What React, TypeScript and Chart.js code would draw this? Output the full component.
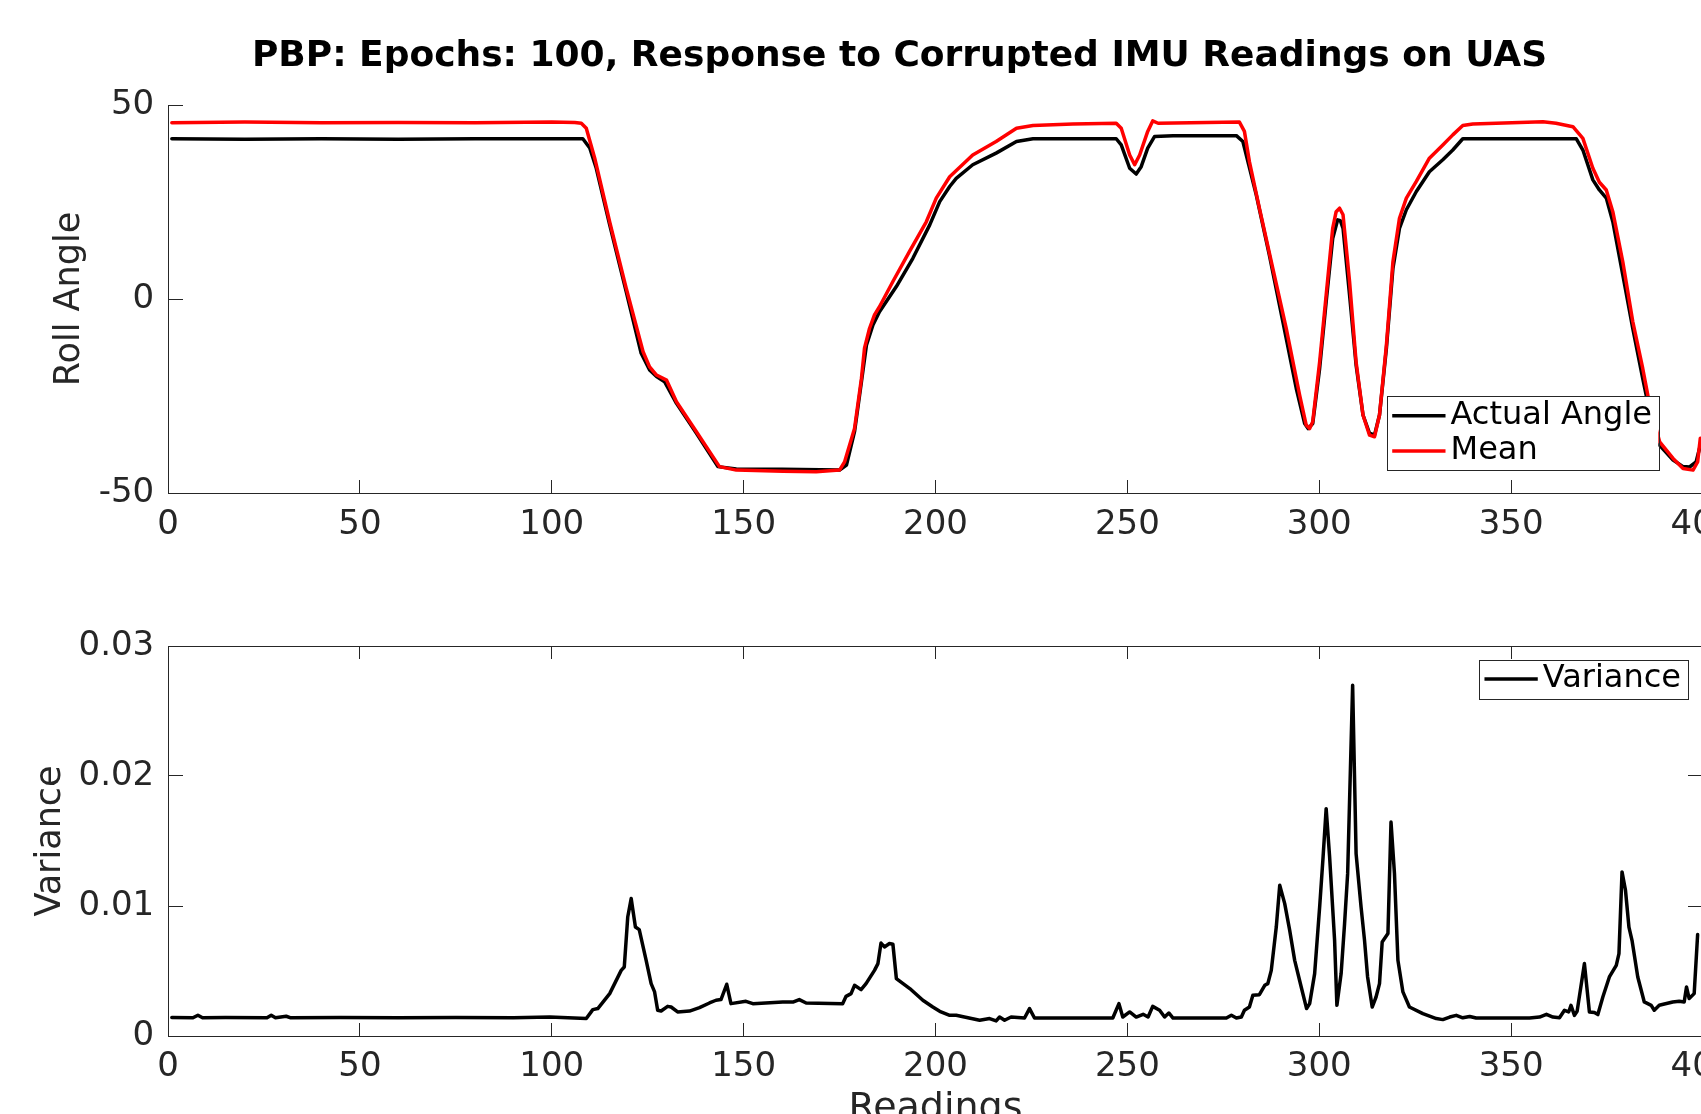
import React, { useEffect, useRef } from 'react';
import { Chart, registerables } from 'chart.js';

Chart.register(...registerables);

// ---------------- text ----------------
const TITLE_TEXT = 'PBP: Epochs: 100, Response to Corrupted IMU Readings on UAS';
const TOP_Y_LABEL = 'Roll Angle';
const BOTTOM_Y_LABEL = 'Variance';
const X_LABEL = 'Readings';
const ACTUAL_NAME = 'Actual Angle';
const MEAN_NAME = 'Mean';
const VARIANCE_NAME = 'Variance';

// ---------------- axes ----------------
const X_MIN = 0;
const X_MAX = 400;
const X_STEP = 50;
const ANGLE_MIN = -50;
const ANGLE_MAX = 50;
const ANGLE_STEP = 50;
const VAR_MIN = 0;
const VAR_MAX = 0.03;
const VAR_STEP = 0.01;

// ---------------- data ----------------
const actualReadings = [
  1, 20, 40, 60, 80, 100, 108.1, 109.9, 111.6, 115.1, 119.4, 123.3, 125.5, 127.3, 129.4,
  132.5, 137.7, 143.3, 148.1, 160, 175.0, 176.8, 178.9, 180.7, 182.0, 183.7, 185.4, 189.8,
  194.1, 198.5, 201.1, 203.7, 205.4, 209.7, 215.8, 221.1, 225.4, 247.1, 248.4, 250.6, 252.3,
  253.6, 255.3, 257.1, 261.9, 278.4, 280.1, 283.6, 287.0, 290.5, 294.0, 296.2, 297.1, 298.3,
  300.1, 301.8, 303.5, 304.8, 305.5, 306.2, 307.9, 309.6, 311.4, 313.1, 314.4, 315.7, 317.5,
  319.2, 320.9, 322.7, 325.3, 328.7, 332.2, 334.8, 337.4, 367.0, 368.7, 371.3, 373.0, 374.8,
  376.5, 379.1, 381.7, 384.3, 386.1, 388.7, 392.2, 394.8, 396.5, 398.2, 399.3,
];
const actualAngle = [
  41.3, 41.2, 41.3, 41.2, 41.3, 41.3, 41.3, 38.9, 33.7, 19.1, 1.9, -14.0, -18.3, -20.0, -21.3,
  -26.9, -34.6, -43.2, -43.8, -43.9, -44.1, -42.8, -34.2, -21.3, -11.9, -6.7, -3.3, 3.2,
  10.5, 19.1, 25.1, 29.0, 31.1, 34.6, 37.6, 40.6, 41.3, 41.3, 39.7, 33.7, 32.2,
  34.1, 38.9, 41.9, 42.1, 42.1, 40.6, 26.8, 11.3, -5.8, -23.0, -32.1, -33.4, -32.1,
  -17.9, -0.7, 15.6, 20.4, 20.2, 18.2, 1.0, -17.0, -29.9, -34.6, -35.1, -29.9, -12.7,
  7.9, 18.2, 23.0, 27.7, 32.8, 35.9, 38.4, 41.3, 41.3, 38.4, 30.7, 28.1, 26.0,
  19.9, 6.2, -7.6, -20.5, -29.1, -37.7, -41.5, -43.2, -43.3, -42.0, -37.7,
];

const meanReadings = [
  1, 20, 40, 60, 80, 100, 106, 107.7, 109.0, 111.2, 115.1, 119.4, 123.8, 125.5, 127.3,
  129.9, 132.5, 137.7, 143.7, 148.1, 160.2, 168.9, 175.0, 176.3, 178.9, 180.7, 181.5, 182.8,
  184.1, 185.4, 188.9, 193.2, 197.6, 200.2, 203.7, 209.7, 215.8, 221.1, 225.4, 235.8, 247.1,
  248.4, 250.6, 251.9, 253.2, 255.3, 256.6, 258.0, 279.2, 280.5, 281.8, 284.4, 287.9, 291.4,
  294.9, 296.6, 297.5, 298.3, 300.1, 301.8, 303.5, 304.4, 305.3, 306.2, 307.9, 309.6, 311.4,
  313.1, 314.4, 315.7, 317.5, 319.2, 320.9, 322.7, 325.3, 328.7, 332.2, 334.8, 337.4, 340.0,
  358.3, 361.7, 366.1, 368.7, 371.3, 373.0, 374.8, 376.5, 379.1, 381.7, 384.3, 386.1, 388.7,
  392.2, 394.8, 397.4, 398.6, 399.3,
];
const meanAngle = [
  45.4, 45.6, 45.4, 45.5, 45.4, 45.6, 45.5, 45.3, 44.0, 36.3, 19.9, 2.8, -13.6, -17.5, -19.6,
  -20.9, -26.5, -34.2, -43.2, -44.1, -44.4, -44.5, -44.1, -42.0, -33.4, -20.5, -12.7, -7.6,
  -4.1, -2.0, 4.5, 12.2, 19.9, 26.0, 31.5, 37.1, 40.6, 44.0, 44.7, 45.1, 45.3,
  44.0, 37.1, 34.6, 37.1, 43.2, 45.9, 45.3, 45.6, 43.2, 35.4, 23.4, 7.9, -7.6,
  -24.8, -32.5, -33.4, -31.6, -16.2, 1.0, 18.2, 22.5, 23.4, 21.7, 4.5, -16.2, -29.9,
  -35.1, -35.5, -29.9, -11.9, 9.6, 20.8, 26.0, 30.3, 36.3, 39.7, 42.3, 44.7, 45.1,
  45.7, 45.3, 44.4, 41.4, 33.7, 30.1, 28.1, 22.5, 9.6, -5.8, -17.9, -27.3, -36.8,
  -41.1, -43.7, -44.1, -42.0, -35.9,
];

const varianceReadings = [
  1, 6.5, 7.8, 9, 15, 25.8, 26.9, 28, 30.8, 32, 45, 60, 75, 90, 99.5, 109.0, 110.7, 112.0,
  115.1, 118.1, 118.9, 119.8, 120.7, 121.8, 122.8, 124.6, 125.9, 126.8, 127.6, 128.5, 130.2,
  131.1, 132.8, 135.9, 138.5, 141.1, 142.8, 144.1, 145.6, 146.7, 150.6, 152.4, 160.2, 163.0,
  164.5, 166.3, 175.8, 176.7, 178.0, 178.9, 180.6, 181.9, 184.1, 185.0, 185.8, 186.7, 188.0,
  188.9, 189.8, 193.3, 196.7, 199.3, 201.1, 203.7, 205.4, 211.5, 214.1, 215.8, 216.7, 218.0,
  219.7, 223.2, 224.5, 225.8, 246.2, 247.8, 248.8, 250.6, 252.3, 254.1, 255.4, 256.6, 258.4,
  259.7, 260.8, 261.9, 275.8, 277.1, 278.4, 279.7, 280.5, 281.8, 282.7, 284.4, 285.8, 286.6,
  287.5, 288.8, 289.7, 291.0, 292.3, 293.6, 295.3, 296.7, 297.5, 298.8, 300.1, 301.0, 301.8,
  302.7, 304.0, 304.6, 305.7, 306.6, 307.4, 308.7, 309.6, 310.9, 311.8, 312.6, 313.8, 314.8,
  315.7, 316.4, 317.9, 318.7, 319.6, 320.5, 321.8, 323.5, 327.0, 330.5, 332.2, 334.0, 335.7,
  337.4, 339.2, 340.9, 354.8, 357.4, 359.2, 360.9, 362.6, 363.9, 365.0, 365.6, 366.5, 367.2,
  369.1, 370.4, 371.7, 372.6, 373.9, 375.6, 377.4, 378.1, 378.9, 379.8, 380.7, 381.5, 383.0,
  384.7, 386.5, 387.3, 388.6, 392.1, 393.8, 395.1, 395.7, 396.4, 397.7, 398.6,
];
const varianceValues = [
  0.00142, 0.0014, 0.0016, 0.00141, 0.00142, 0.0014, 0.00159, 0.0014, 0.00152, 0.0014,
  0.00142, 0.0014, 0.00143, 0.00141, 0.00146, 0.00134, 0.00203, 0.00211,
  0.00326, 0.00505, 0.00531, 0.00915, 0.01057, 0.00838, 0.00818, 0.00582, 0.00403, 0.00339,
  0.00198, 0.00192, 0.00228, 0.00223, 0.00185, 0.00192, 0.00218, 0.00254, 0.00275, 0.0028,
  0.00398, 0.00249, 0.00267, 0.00249, 0.00262, 0.00262, 0.0028, 0.00254, 0.00249, 0.00305,
  0.00326, 0.0039, 0.00357, 0.00403, 0.00505, 0.00557, 0.00715, 0.00685, 0.00711, 0.00706,
  0.00442, 0.00365, 0.00275, 0.00223, 0.0019, 0.00159, 0.00159, 0.00121, 0.00134, 0.00116,
  0.00146, 0.00121, 0.00146, 0.00138, 0.00211, 0.00138, 0.00138, 0.00249, 0.00146, 0.00185,
  0.00146, 0.00167, 0.00146, 0.00228, 0.00198, 0.00146, 0.00177, 0.00138, 0.00138, 0.00159,
  0.00138, 0.00146, 0.00198, 0.00223, 0.00313, 0.00318, 0.0039, 0.00403, 0.00505, 0.00838,
  0.01159, 0.01018, 0.00813, 0.00582, 0.00377, 0.00211, 0.00249, 0.0048, 0.00992, 0.01377,
  0.01749, 0.01377, 0.00736, 0.00236, 0.0048, 0.00865, 0.01249, 0.02698, 0.01403, 0.00992,
  0.00736, 0.00454, 0.00223, 0.003, 0.00403, 0.00723, 0.00788, 0.01646, 0.01249, 0.00582,
  0.00339, 0.00223, 0.00172, 0.00134, 0.00126, 0.00146, 0.00159, 0.0014, 0.0015, 0.00138,
  0.00138, 0.00146, 0.00167, 0.00146, 0.0014, 0.00198, 0.00185, 0.00236, 0.00159, 0.0019,
  0.00557, 0.00185, 0.0018, 0.00165, 0.003, 0.00454, 0.00544, 0.00634, 0.01262, 0.01121,
  0.00838, 0.00736, 0.00454, 0.00262, 0.00236, 0.00198, 0.00236, 0.00262, 0.00267, 0.00262,
  0.00377, 0.00288, 0.00326, 0.0078,
];

// ---------------- layout / style ----------------
const FONT = "'DejaVu Sans', 'Liberation Sans', Arial, sans-serif";
const AXIS_COLOR = '#262626';
const FIG_W = 1701;
const FIG_H = 1114;
const CANVAS_W = 1800;
const TOP_H = 560;
const BOT_H = 640;
const BOT_OFFSET = 560;
const PLOT_LEFT = 168;
const PLOT_RIGHT = 1703;
const TOP_PLOT_TOP = 105;
const TOP_PLOT_BOTTOM = 493;
const BOT_PLOT_TOP = 86;
const BOT_PLOT_BOTTOM = 476;
const TITLE_CENTER_X = 899.5;
const TITLE_MIDDLE_Y = 56.6;
const LINE_W = 3.5;

const toPoints = (xs: number[], ys: number[]) => xs.map((x, i) => ({ x, y: ys[i] }));

type Place = (area: any, w: number, h: number) => { left: number; top: number };

function boxLegend(id: string, place: Place) {
  return {
    id,
    afterDraw(chart: any) {
      const { ctx, chartArea } = chart;
      const ds = chart.data.datasets;
      ctx.save();
      ctx.font = `32px ${FONT}`;
      const textW = Math.max(...ds.map((d: any) => ctx.measureText(d.label).width));
      const rowH = 35.3;
      const w = 5.7 + 53.3 + 5 + textW + 6.3;
      const h = ds.length * rowH + 3.4;
      const p = place(chartArea, w, h);
      ctx.fillStyle = '#ffffff';
      ctx.fillRect(p.left, p.top, w, h);
      ctx.strokeStyle = AXIS_COLOR;
      ctx.lineWidth = 1;
      ctx.strokeRect(Math.round(p.left) + 0.5, Math.round(p.top) + 0.5, Math.round(w), Math.round(h));
      ds.forEach((d: any, i: number) => {
        const cy = p.top + 1.7 + rowH * (i + 0.5);
        ctx.strokeStyle = d.borderColor;
        ctx.lineWidth = LINE_W;
        ctx.beginPath();
        ctx.moveTo(p.left + 5.7, cy);
        ctx.lineTo(p.left + 59, cy);
        ctx.stroke();
        ctx.fillStyle = '#000000';
        ctx.textBaseline = 'middle';
        ctx.textAlign = 'left';
        ctx.fillText(d.label, p.left + 64, cy);
      });
      ctx.restore();
    },
  };
}

// Figure title (MATLAB centres it on the uncropped figure, not on this canvas)
const figureTitle = {
  id: 'figureTitle',
  afterDraw(chart: any) {
    const { ctx } = chart;
    ctx.save();
    ctx.font = `bold 36px ${FONT}`;
    ctx.fillStyle = '#000000';
    ctx.textAlign = 'center';
    ctx.textBaseline = 'middle';
    ctx.fillText(TITLE_TEXT, TITLE_CENTER_X, TITLE_MIDDLE_Y);
    ctx.restore();
  },
};

const tickFont = { family: FONT, size: 34 };

function xAxis(withTitle: boolean, height: number, pad: number) {
  return {
    type: 'linear',
    position: 'bottom',
    min: X_MIN,
    max: X_MAX,
    afterFit: (s: any) => {
      s.height = height;
    },
    ticks: {
      stepSize: X_STEP,
      color: AXIS_COLOR,
      font: tickFont,
      padding: pad,
      maxRotation: 0,
      autoSkip: false,
      callback: (v: any) => String(v),
    },
    grid: {
      display: true,
      drawOnChartArea: false,
      drawTicks: true,
      tickLength: -13,
      color: AXIS_COLOR,
      lineWidth: 1,
    },
    border: { display: true, color: AXIS_COLOR, width: 1 },
    title: withTitle
      ? {
          display: true,
          text: X_LABEL,
          color: AXIS_COLOR,
          font: { family: FONT, size: 38, lineHeight: 1.2 },
          padding: { top: 0, bottom: 68.5 },
        }
      : { display: false },
  };
}

function yAxis(min: number, max: number, step: number, label: string, titlePad: number, fmt: (v: number) => string) {
  return {
    type: 'linear',
    position: 'left',
    min,
    max,
    afterFit: (s: any) => {
      s.width = PLOT_LEFT;
    },
    ticks: {
      stepSize: step,
      color: AXIS_COLOR,
      font: tickFont,
      padding: 28.8,
      autoSkip: false,
      callback: (v: any) => fmt(Number(v)),
    },
    grid: {
      display: true,
      drawOnChartArea: false,
      drawTicks: true,
      tickLength: -15,
      color: AXIS_COLOR,
      lineWidth: 1,
    },
    border: { display: true, color: AXIS_COLOR, width: 1 },
    title: {
      display: true,
      text: label,
      color: AXIS_COLOR,
      font: { family: FONT, size: 35, lineHeight: 1.2 },
      padding: { top: titlePad, bottom: 0 },
    },
  };
}

function lineDataset(label: string, xs: number[], ys: number[], color: string, order: number) {
  return {
    label,
    data: toPoints(xs, ys),
    borderColor: color,
    backgroundColor: color,
    borderWidth: LINE_W,
    pointRadius: 0,
    tension: 0,
    fill: false,
    borderJoinStyle: 'round',
    borderCapStyle: 'round',
    order,
  };
}

function topConfig(): any {
  return {
    type: 'line',
    data: {
      datasets: [
        lineDataset(ACTUAL_NAME, actualReadings, actualAngle, '#000000', 2),
        lineDataset(MEAN_NAME, meanReadings, meanAngle, '#ff0000', 1),
      ],
    },
    options: {
      responsive: false,
      maintainAspectRatio: false,
      animation: false,
      devicePixelRatio: 1,
      events: [],
      layout: { padding: { left: 0, top: TOP_PLOT_TOP, right: CANVAS_W - PLOT_RIGHT, bottom: 0 } },
      scales: {
        x: xAxis(false, TOP_H - TOP_PLOT_BOTTOM, 25),
        y: yAxis(ANGLE_MIN, ANGLE_MAX, ANGLE_STEP, TOP_Y_LABEL, 48.5, (v) => String(v)),
      },
      plugins: {
        legend: { display: false },
        tooltip: { enabled: false },
        title: { display: false },
      },
    },
    plugins: [
      figureTitle,
      boxLegend('topLegend', (a, w, h) => ({ left: a.right - 44.7 - w, top: a.bottom - 22.7 - h })),
    ],
  };
}

function bottomConfig(): any {
  return {
    type: 'line',
    data: {
      datasets: [lineDataset(VARIANCE_NAME, varianceReadings, varianceValues, '#000000', 1)],
    },
    options: {
      responsive: false,
      maintainAspectRatio: false,
      animation: false,
      devicePixelRatio: 1,
      events: [],
      layout: { padding: { left: 0, top: BOT_PLOT_TOP, right: CANVAS_W - PLOT_RIGHT, bottom: 0 } },
      scales: {
        x: xAxis(true, BOT_H - BOT_PLOT_BOTTOM, 24),
        y: yAxis(VAR_MIN, VAR_MAX, VAR_STEP, BOTTOM_Y_LABEL, 29.5, (v) => (v === 0 ? '0' : v.toFixed(2))),
        x2: {
          type: 'linear',
          axis: 'x',
          position: 'top',
          min: X_MIN,
          max: X_MAX,
          afterFit: (s: any) => {
            s.height = 0;
          },
          ticks: { display: false, stepSize: X_STEP },
          grid: {
            display: true,
            drawOnChartArea: false,
            drawTicks: true,
            tickLength: -13,
            color: AXIS_COLOR,
            lineWidth: 1,
          },
          border: { display: true, color: AXIS_COLOR, width: 1 },
        },
        y2: {
          type: 'linear',
          axis: 'y',
          position: 'right',
          min: VAR_MIN,
          max: VAR_MAX,
          afterFit: (s: any) => {
            s.width = 0;
          },
          ticks: { display: false, stepSize: VAR_STEP },
          grid: {
            display: true,
            drawOnChartArea: false,
            drawTicks: true,
            tickLength: -15,
            color: AXIS_COLOR,
            lineWidth: 1,
          },
          border: { display: true, color: AXIS_COLOR, width: 1 },
        },
      },
      plugins: {
        legend: { display: false },
        tooltip: { enabled: false },
        title: { display: false },
      },
    },
    plugins: [
      boxLegend('bottomLegend', (a, w, h) => ({ left: a.right - 15.7 - w, top: a.top + 13.6 })),
    ],
  };
}

export default function App() {
  const topRef = useRef<HTMLCanvasElement | null>(null);
  const botRef = useRef<HTMLCanvasElement | null>(null);

  useEffect(() => {
    const c1 = new Chart(topRef.current as HTMLCanvasElement, topConfig());
    const c2 = new Chart(botRef.current as HTMLCanvasElement, bottomConfig());
    return () => {
      c1.destroy();
      c2.destroy();
    };
  }, []);

  return (
    <div
      style={{
        position: 'absolute',
        left: 0,
        top: 0,
        width: FIG_W,
        height: FIG_H,
        overflow: 'hidden',
        background: '#ffffff',
      }}
    >
      <div style={{ position: 'absolute', left: 0, top: 0, width: CANVAS_W, height: TOP_H }}>
        <canvas ref={topRef} width={CANVAS_W} height={TOP_H} style={{ display: 'block', width: CANVAS_W, height: TOP_H }} />
      </div>
      <div style={{ position: 'absolute', left: 0, top: BOT_OFFSET, width: CANVAS_W, height: BOT_H }}>
        <canvas ref={botRef} width={CANVAS_W} height={BOT_H} style={{ display: 'block', width: CANVAS_W, height: BOT_H }} />
      </div>
    </div>
  );
}
